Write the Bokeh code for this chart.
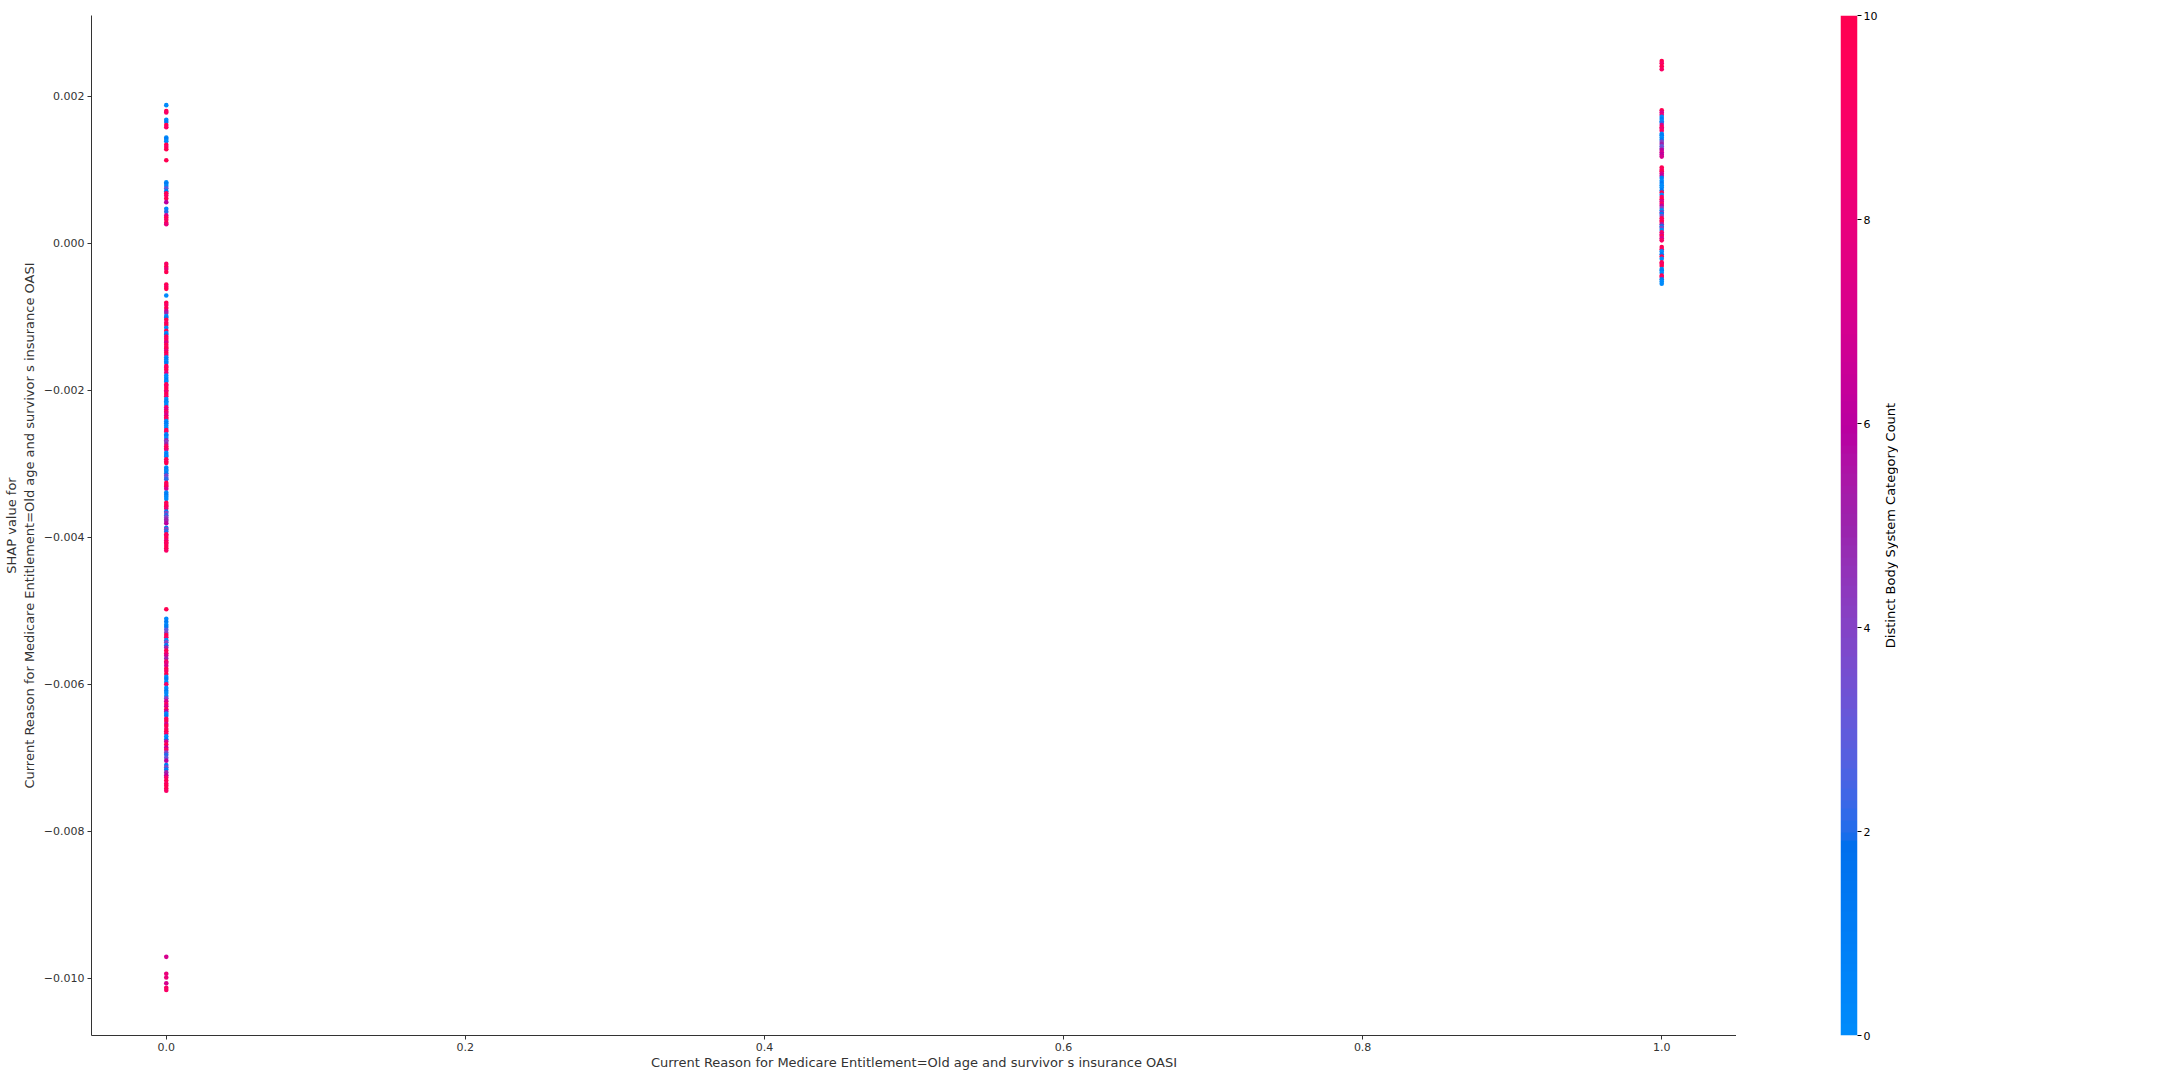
import numpy as np
from bokeh.plotting import figure
from bokeh.layouts import row
from bokeh.models import (ColumnDataSource, LinearColorMapper, Range1d, FixedTicker,
                          CustomJSTickFormatter, Title, LinearAxis)
from bokeh.transform import transform
from bokeh.embed import file_html
from bokeh.resources import INLINE

# ---------------- data ----------------
x_label = "Current Reason for Medicare Entitlement=Old age and survivor s insurance OASI"
y_label_line1 = "SHAP value for"
y_label_line2 = "Current Reason for Medicare Entitlement=Old age and survivor s insurance OASI"
color_label = "Distinct Body System Category Count"

# feature value 0 -> SHAP values
x0_shap = [
    0.00188, 0.00180, 0.00178, 0.00168, 0.00165, 0.00161, 0.00158, 0.00144, 0.00142, 0.00139,
    0.00134, 0.00131, 0.00128, 0.00113, 0.00083, 0.00081, 0.00078, 0.00075, 0.00071, 0.00068,
    0.00065, 0.00061, 0.00056, 0.00047, 0.00043, 0.00038, 0.00035, 0.00032, 0.00028, 0.00026,
    -0.00028, -0.00032, -0.00035, -0.00039, -0.00056, -0.00059, -0.00062, -0.00071, -0.00081, -0.00084,
    -0.00088, -0.00092, -0.00095, -0.00099, -0.00101, -0.00104, -0.00108, -0.00111, -0.00115, -0.00119,
    -0.00122, -0.00124, -0.00127, -0.00130, -0.00133, -0.00135, -0.00138, -0.00141, -0.00143, -0.00146,
    -0.00149, -0.00152, -0.00155, -0.00158, -0.00161, -0.00163, -0.00167, -0.00169, -0.00172, -0.00176,
    -0.00180, -0.00183, -0.00186, -0.00188, -0.00192, -0.00194, -0.00197, -0.00200, -0.00202, -0.00205,
    -0.00208, -0.00212, -0.00215, -0.00217, -0.00220, -0.00223, -0.00226, -0.00229, -0.00231, -0.00234,
    -0.00237, -0.00239, -0.00242, -0.00245, -0.00248, -0.00251, -0.00254, -0.00256, -0.00260, -0.00262,
    -0.00265, -0.00268, -0.00270, -0.00273, -0.00276, -0.00279, -0.00281, -0.00285, -0.00288, -0.00290,
    -0.00294, -0.00297, -0.00299, -0.00305, -0.00308, -0.00310, -0.00313, -0.00316, -0.00319, -0.00321,
    -0.00326, -0.00329, -0.00331, -0.00334, -0.00339, -0.00342, -0.00345, -0.00348, -0.00353, -0.00356,
    -0.00358, -0.00361, -0.00365, -0.00367, -0.00370, -0.00373, -0.00376, -0.00378, -0.00381, -0.00387,
    -0.00389, -0.00392, -0.00396, -0.00398, -0.00401, -0.00404, -0.00407, -0.00409, -0.00412, -0.00415,
    -0.00418,
    -0.00498, -0.00511, -0.00515, -0.00519, -0.00522, -0.00526, -0.00530, -0.00533, -0.00536, -0.00540,
    -0.00543, -0.00547, -0.00550, -0.00554, -0.00558, -0.00561, -0.00565, -0.00569, -0.00571, -0.00575,
    -0.00579, -0.00582, -0.00586, -0.00590, -0.00593, -0.00597, -0.00600, -0.00605, -0.00609, -0.00612,
    -0.00616, -0.00619, -0.00623, -0.00627, -0.00630, -0.00634, -0.00637, -0.00640, -0.00643, -0.00647,
    -0.00650, -0.00654, -0.00657, -0.00661, -0.00664, -0.00667, -0.00671, -0.00675, -0.00678, -0.00682,
    -0.00686, -0.00689, -0.00693, -0.00696, -0.00700, -0.00704, -0.00710, -0.00713, -0.00716, -0.00720,
    -0.00724, -0.00727, -0.00731, -0.00735, -0.00738, -0.00742, -0.00745,
    -0.00971, -0.00994, -0.00999, -0.01007, -0.01013, -0.01016,
]
x0_color = [
    0, 10, 9, 0, 1, 10, 9, 0, 1, 0,
    10, 9, 10, 10, 0, 1, 0, 3, 1, 10,
    9, 10, 6, 0, 2, 7, 10, 9, 10, 8,
    9, 10, 8, 10, 10, 9, 10, 0, 10, 9,
    10, 7, 5, 0, 1, 10, 9, 10, 0, 10,
    0, 1, 10, 9, 10, 7, 10, 9, 10, 8,
    10, 9, 0, 1, 0, 1, 10, 9, 10, 8,
    0, 0, 1, 0, 10, 9, 10, 10, 8, 10,
    9, 0, 1, 0, 0, 9, 7, 10, 8, 7,
    10, 9, 0, 1, 0, 0, 10, 9, 0, 1,
    0, 5, 4, 5, 9, 10, 8, 0, 1, 0,
    10, 9, 10, 0, 1, 0, 1, 4, 3, 2,
    10, 9, 10, 7, 0, 1, 0, 0, 10, 9,
    10, 8, 1, 4, 2, 4, 5, 5, 6, 1,
    4, 2, 10, 9, 10, 8, 10, 9, 10, 10,
    9,
    10, 0, 1, 0, 1, 3, 4, 10, 9, 0,
    4, 1, 5, 10, 9, 7, 5, 10, 8, 7,
    10, 9, 10, 0, 1, 0, 9, 0, 1, 0,
    0, 4, 7, 9, 7, 10, 6, 0, 1, 9,
    10, 7, 10, 9, 10, 9, 0, 1, 7, 10,
    6, 9, 4, 2, 3, 6, 1, 4, 1, 5,
    6, 9, 10, 9, 10, 10, 9,
    7, 8, 8, 7, 9, 9,
]

# feature value 1 -> SHAP values
x1_shap = [
    0.00248, 0.00245, 0.00241, 0.00237,
    0.00181, 0.00178, 0.00175, 0.00172, 0.00169, 0.00166, 0.00164, 0.00161, 0.00158, 0.00156,
    0.00153, 0.00149, 0.00147, 0.00144, 0.00141, 0.00138, 0.00135, 0.00132, 0.00129, 0.00127,
    0.00124, 0.00121, 0.00118,
    0.00103, 0.00100, 0.00098, 0.00095, 0.00092, 0.00089, 0.00085, 0.00082, 0.00079, 0.00076,
    0.00072, 0.00069, 0.00066, 0.00063, 0.00060, 0.00057, 0.00054, 0.00051, 0.00048, 0.00045,
    0.00042, 0.00040, 0.00037, 0.00034, 0.00031, 0.00029, 0.00026, 0.00023, 0.00021, 0.00018,
    0.00015, 0.00012, 0.00010, 0.00007, 0.00004,
    -0.00005, -0.00008, -0.00011, -0.00015, -0.00018, -0.00021,
    -0.00026, -0.00028, -0.00031, -0.00035, -0.00037, -0.00040, -0.00044, -0.00046, -0.00049,
    -0.00052, -0.00055,
]
x1_color = [
    10, 9, 10, 9,
    10, 7, 8, 0, 1, 0, 2, 7, 10, 8,
    9, 0, 1, 0, 1, 4, 5, 3, 4, 6,
    7, 6, 7,
    10, 9, 10, 7, 6, 1, 0, 1, 0, 0,
    1, 10, 0, 9, 10, 7, 9, 6, 4, 0,
    5, 1, 4, 10, 9, 10, 5, 1, 4, 0,
    9, 7, 10, 7, 9,
    10, 9, 0, 1, 10, 0,
    10, 9, 10, 0, 1, 0, 10, 9, 1,
    0, 0,
]

y_ticks = [-0.010, -0.008, -0.006, -0.004, -0.002, 0.000, 0.002]
x_ticks = [0.0, 0.2, 0.4, 0.6, 0.8, 1.0]
c_ticks = [0, 2, 4, 6, 8, 10]

# ---------------- SHAP red_blue colormap (LCH interpolation) ----------------
def lch2hex(L, C, H):
    a = C * np.cos(H)
    b = C * np.sin(H)
    fy = (L + 16.0) / 116.0
    fx = fy + a / 500.0
    fz = fy - b / 200.0

    def finv(t):
        return t ** 3 if t ** 3 > 0.008856 else (t - 16.0 / 116.0) / 7.787

    X = 0.95047 * finv(fx)
    Y = 1.0 * finv(fy)
    Z = 1.08883 * finv(fz)
    r = 3.2404542 * X - 1.5371385 * Y - 0.4985314 * Z
    g = -0.9692660 * X + 1.8760108 * Y + 0.0415560 * Z
    bl = 0.0556434 * X - 0.2040259 * Y + 1.0572252 * Z
    out = []
    for c in (r, g, bl):
        c = 1.055 * c ** (1 / 2.4) - 0.055 if c > 0.0031308 else 12.92 * c
        out.append(int(round(min(max(c, 0.0), 1.0) * 255)))
    return "#%02x%02x%02x" % tuple(out)


blue_lch = [54.0, 70.0, 4.6588]
l_mid = 40.0
red_lch = [54.0, 90.0, 0.35470565 + 2 * np.pi]
nsteps = 100
l_vals = list(np.linspace(blue_lch[0], l_mid, nsteps // 2)) + list(np.linspace(l_mid, red_lch[0], nsteps // 2))
c_vals = np.linspace(blue_lch[1], red_lch[1], nsteps)
h_vals = np.linspace(blue_lch[2], red_lch[2], nsteps)
palette = [lch2hex(l, c, h) for l, c, h in zip(l_vals, c_vals, h_vals)]
mapper = LinearColorMapper(palette=palette, low=0, high=10)

# ---------------- main scatter ----------------
axis_color = "#333333"
FONT = "DejaVu Sans"
FRAME_W, FRAME_H = 1645, 1020

n0 = min(len(x0_shap), len(x0_color))
n1 = min(len(x1_shap), len(x1_color))
src = ColumnDataSource(dict(
    x=[0.0] * n0 + [1.0] * n1,
    y=x0_shap[:n0] + x1_shap[:n1],
    c=x0_color[:n0] + x1_color[:n1],
))

p = figure(frame_width=FRAME_W, frame_height=FRAME_H,
           x_range=Range1d(-0.05, 1.05), y_range=Range1d(-0.01078, 0.00310),
           min_border_left=91, min_border_right=0, min_border_top=15, min_border_bottom=45,
           toolbar_location=None, output_backend="svg", background_fill_color="white")
p.scatter("x", "y", source=src, size=4.6, line_color=None,
          fill_color=transform("c", mapper), fill_alpha=1.0)

p.grid.visible = False
p.outline_line_color = None
for ax in (p.xaxis[0], p.yaxis[0]):
    ax.axis_line_color = axis_color
    ax.major_tick_line_color = axis_color
    ax.minor_tick_line_color = None
    ax.major_tick_out = 4
    ax.major_tick_in = 0
    ax.major_label_text_color = axis_color
    ax.major_label_text_font = FONT
    ax.major_label_text_font_size = "11px"
    ax.major_label_standoff = 3
    ax.axis_label_text_color = axis_color
    ax.axis_label_text_font = FONT
    ax.axis_label_text_font_size = "13px"
    ax.axis_label_text_font_style = "normal"

p.xaxis.ticker = FixedTicker(ticks=x_ticks)
p.yaxis.ticker = FixedTicker(ticks=y_ticks)
p.xaxis.formatter = CustomJSTickFormatter(code="return (tick < 0 ? '\u2212' : '') + Math.abs(tick).toFixed(1);")
p.yaxis.formatter = CustomJSTickFormatter(code="return (Math.abs(tick) < 1e-12 ? '0.000' : (tick < 0 ? '\u2212' : '') + Math.abs(tick).toFixed(3));")
p.xaxis.axis_label = x_label
p.yaxis.axis_label = y_label_line2
p.xaxis.axis_label_standoff = 1
p.yaxis.axis_label_standoff = 4

# first line of the two-line y label: the label of a tick-less outer left axis
outer = LinearAxis(ticker=FixedTicker(ticks=[]), axis_label=y_label_line1,
                   axis_line_color=None, major_tick_line_color=None, minor_tick_line_color=None,
                   major_tick_out=0, major_tick_in=0, major_label_standoff=0,
                   axis_label_standoff=0, axis_label_text_font=FONT,
                   axis_label_text_font_size="13px", axis_label_text_font_style="normal",
                   axis_label_text_color=axis_color)
p.add_layout(outer, "left")

# ---------------- colour bar (separate narrow figure) ----------------
cb = figure(frame_width=17, frame_height=FRAME_H,
            x_range=Range1d(0, 1), y_range=Range1d(0, 10),
            y_axis_location="right",
            min_border_left=104, min_border_right=0, min_border_top=15, min_border_bottom=45,
            toolbar_location=None, output_backend="svg")
grad = np.linspace(0, 10, 256).reshape(256, 1)
cb.image(image=[grad], x=0, y=0, dw=1, dh=10, color_mapper=mapper)
cb.xaxis.visible = False
cb.grid.visible = False
cb.outline_line_color = None
cax = cb.yaxis[0]
cax.ticker = FixedTicker(ticks=c_ticks)
cax.axis_line_color = None
cax.major_tick_line_color = "black"
cax.minor_tick_line_color = None
cax.major_tick_out = 4
cax.major_tick_in = 0
cax.major_label_text_color = "black"
cax.major_label_text_font = FONT
cax.major_label_text_font_size = "11px"
cax.major_label_standoff = 2

# colour-bar label: a left-side title of a tiny neighbour figure (reads bottom-to-top)
lab = figure(frame_width=1, frame_height=FRAME_H,
             x_axis_location=None, y_axis_location=None,
             min_border_left=0, min_border_right=0, min_border_top=15, min_border_bottom=45,
             toolbar_location=None, output_backend="svg")
lab.grid.visible = False
lab.outline_line_color = None
lab.add_layout(Title(text=color_label, align="center", text_font=FONT, text_font_size="13px",
                     text_font_style="normal", text_color="black", standoff=0, offset=0), "left")

layout = row(p, cb, lab, spacing=0)
open("out.html", "w").write(file_html(layout, INLINE))
